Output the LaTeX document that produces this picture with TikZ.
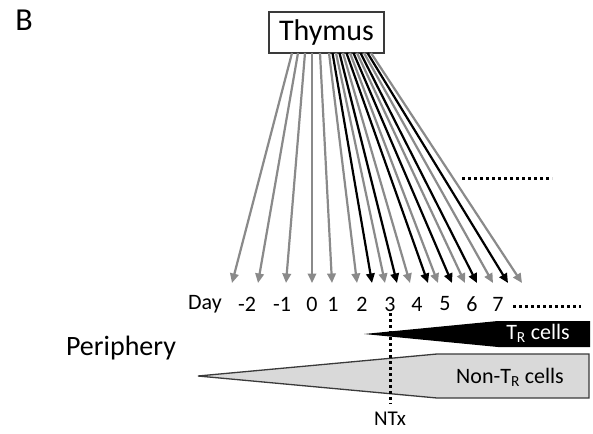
\documentclass[tikz,border=0pt]{standalone}
\usepackage{fontspec}
\setmainfont{Carlito}
\usetikzlibrary{arrows.meta}
\definecolor{arrgray}{HTML}{8A8A8A}
\definecolor{lightfill}{HTML}{D9D9D9}
\definecolor{edgegray}{HTML}{3A3A3A}
\begin{document}
\begin{tikzpicture}[x=1pt,y=-1pt,
  garrow/.style={draw=arrgray, line width=2.2pt, -{Triangle[length=9.5pt,width=8.5pt]}},
  barrow/.style={draw=black, line width=2.2pt, -{Triangle[length=9.5pt,width=8.5pt]}},
  dotline/.style={line width=3pt, dash pattern=on 3pt off 3pt},
  daylbl/.style={font=\fontsize{22}{26}\selectfont, inner sep=0pt},
  ]
\useasboundingbox (0,0) rectangle (593,433);

\node[font=\fontsize{32}{38}\selectfont, inner sep=0pt] (B) at (24,20) {B};
\node[draw=edgegray, line width=1.5pt, minimum width=115pt, minimum height=41pt, inner sep=0pt,
      font=\fontsize{30}{36}\selectfont] (thy) at (326.5,32.5) {Thymus};

% start points (bottom of Thymus box) and end points (tips)
\foreach \i/\sx/\ex in {1/292/232, 2/298/258, 3/305/286, 4/312/312, 5/320/332,
  6/329/357, 7/332.5/372, 8/336/385, 9/339.5/397, 10/343/410, 11/346.5/428,
  12/350/438, 13/353.5/452, 14/357/465, 15/360.5/477, 16/364/493, 17/367.5/508, 18/371/522}{
  \coordinate (s\i) at (\sx,53);
  \coordinate (e\i) at (\ex,283);
}
\foreach \i in {1,2,3,4,5,6,8,10,12,14,16,18}{
  \draw[garrow] (s\i) -- (e\i);
}
\foreach \i in {7,9,11,13,15,17}{
  \draw[barrow] (s\i) -- (e\i);
}

\coordinate (d1a) at (462,178);
\coordinate (d1b) at (552,178);
\draw[dotline] (d1a) -- (d1b);

% day row
\node[daylbl] (day) at (205,304) {Day};
\node[daylbl] (dm2) at (247,304) {-2};
\node[daylbl] (dm1) at (282,304) {-1};
\node[daylbl] (d0) at (312,304) {0};
\node[daylbl] (d1) at (333,304) {1};
\node[daylbl] (d2) at (362,304) {2};
\node[daylbl] (d3) at (390,304) {3};
\node[daylbl] (d4) at (417,304) {4};
\node[daylbl] (d5) at (445,304) {5};
\node[daylbl] (d6) at (472,304) {6};
\node[daylbl] (d7) at (498,304) {7};
\coordinate (d2a) at (513,306);
\coordinate (d2b) at (581,306);
\draw[dotline] (d2a) -- (d2b);

\node[font=\fontsize{28}{34}\selectfont, inner sep=0pt] (per) at (121,348) {Periphery};

% Non-TR shape
\draw[fill=lightfill, draw=edgegray, line width=1.3pt]
  (198,376) -- (437,354) -- (589,354) -- (589,398) -- (437,398) -- cycle;
% TR shape
\fill[black] (364,334) -- (498,321) -- (590,321) -- (590,347) -- (498,347) -- cycle;

\node[font=\fontsize{22}{26}\selectfont, text=white, inner sep=0pt] (tr) at (538,333) {T\textsubscript{R} cells};
\node[font=\fontsize{22}{26}\selectfont, inner sep=0pt] (ntr) at (510,377) {Non-T\textsubscript{R} cells};

\coordinate (nta) at (390,313);
\coordinate (ntb) at (390,404);
\draw[dotline] (nta) -- (ntb);
\node[font=\fontsize{21}{25}\selectfont, inner sep=0pt] (ntx) at (390,419) {NTx};
\end{tikzpicture}
\end{document}
